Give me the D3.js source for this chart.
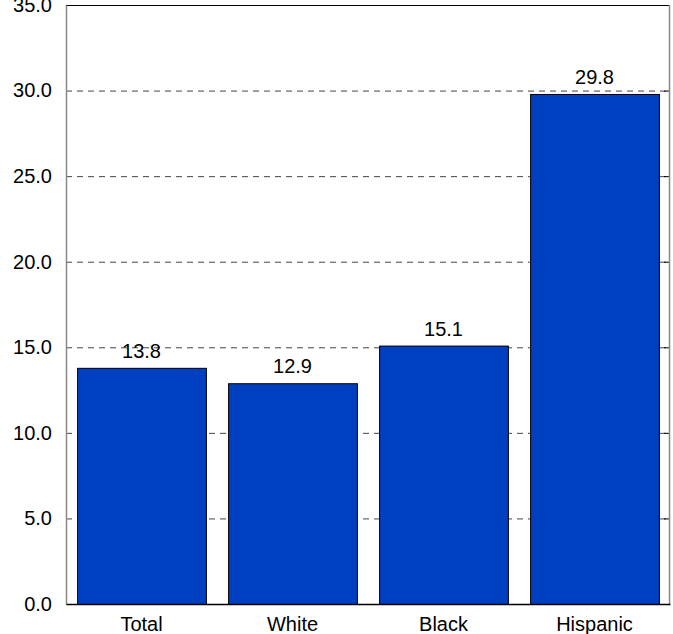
<!DOCTYPE html>
<html>
<head>
<meta charset="utf-8">
<script src="https://cdn.jsdelivr.net/npm/d3@7"></script>
<style>
  html, body { margin: 0; padding: 0; background: #fff; }
</style>
</head>
<body>
<svg id="chart"></svg>
<script>
const categories = ["Total", "White", "Black", "Hispanic"];
const values = [13.8, 12.9, 15.1, 29.8];
const yTicks = [0, 5, 10, 15, 20, 25, 30, 35];

const width = 673;
const height = 634;
const margin = { top: 5, right: 3, bottom: 30, left: 66 };

const svg = d3.select("#chart")
  .attr("width", width)
  .attr("height", height)
  .attr("font-family", "Liberation Sans, Arial, sans-serif");

const x = d3.scaleBand()
  .domain(categories)
  .range([margin.left, width - margin.right])
  .paddingInner(0.147)
  .paddingOuter(0.0735);

const y = d3.scaleLinear()
  .domain([0, 35])
  .range([height - margin.bottom, margin.top]);

// dashed grid
svg.append("g")
  .selectAll("line")
  .data(yTicks.filter(d => d > 0 && d < 35))
  .join("line")
  .attr("x1", margin.left)
  .attr("x2", width - margin.right)
  .attr("y1", d => y(d) + 0.5)
  .attr("y2", d => y(d) + 0.5)
  .attr("stroke", "#444")
  .attr("stroke-dasharray", "6,5");

// right inward ticks
svg.append("g")
  .selectAll("line")
  .data(yTicks.filter(d => d > 0 && d < 35))
  .join("line")
  .attr("x1", width - margin.right - 6)
  .attr("x2", width - margin.right)
  .attr("y1", d => y(d) + 0.5)
  .attr("y2", d => y(d) + 0.5)
  .attr("stroke", "#000");

// bars
svg.append("g")
  .selectAll("rect")
  .data(values)
  .join("rect")
  .attr("x", (d, i) => x(categories[i]) + 0.5)
  .attr("y", d => y(d) + 0.5)
  .attr("width", x.bandwidth())
  .attr("height", d => y(0) - y(d))
  .attr("fill", "#0040c0")
  .attr("stroke", "#000")
  .attr("stroke-width", 1);

// value labels
svg.append("g")
  .attr("font-size", 20)
  .attr("text-anchor", "middle")
  .attr("fill", "#000")
  .selectAll("text")
  .data(values)
  .join("text")
  .attr("x", (d, i) => x(categories[i]) + x.bandwidth() / 2)
  .attr("y", d => y(d) - 10)
  .text(d => d.toFixed(1));

// frame
svg.append("line")
  .attr("x1", margin.left).attr("x2", width - margin.right)
  .attr("y1", margin.top + 0.5).attr("y2", margin.top + 0.5)
  .attr("stroke", "#000");
svg.append("line")
  .attr("x1", width - margin.right - 0.5).attr("x2", width - margin.right - 0.5)
  .attr("y1", margin.top).attr("y2", height - margin.bottom)
  .attr("stroke", "#888").attr("stroke-width", 1.5);

// y axis
const yAxis = svg.append("g")
  .attr("transform", `translate(${margin.left},0)`)
  .call(d3.axisLeft(y).tickValues(yTicks).tickFormat(d3.format(".1f")).tickSize(0).tickPadding(14));
yAxis.select(".domain").attr("stroke", "#888").attr("stroke-width", 1.5);
yAxis.selectAll("text").attr("font-size", 20).attr("fill", "#000").attr("font-family", "Liberation Sans, Arial, sans-serif");

// x axis
const xAxis = svg.append("g")
  .attr("transform", `translate(0,${height - margin.bottom})`)
  .call(d3.axisBottom(x).tickSize(0).tickPadding(13));
xAxis.select(".domain").attr("stroke", "#000").attr("stroke-width", 1.5);
xAxis.selectAll("text").attr("font-size", 20).attr("fill", "#000").attr("font-family", "Liberation Sans, Arial, sans-serif");
</script>
</body>
</html>
